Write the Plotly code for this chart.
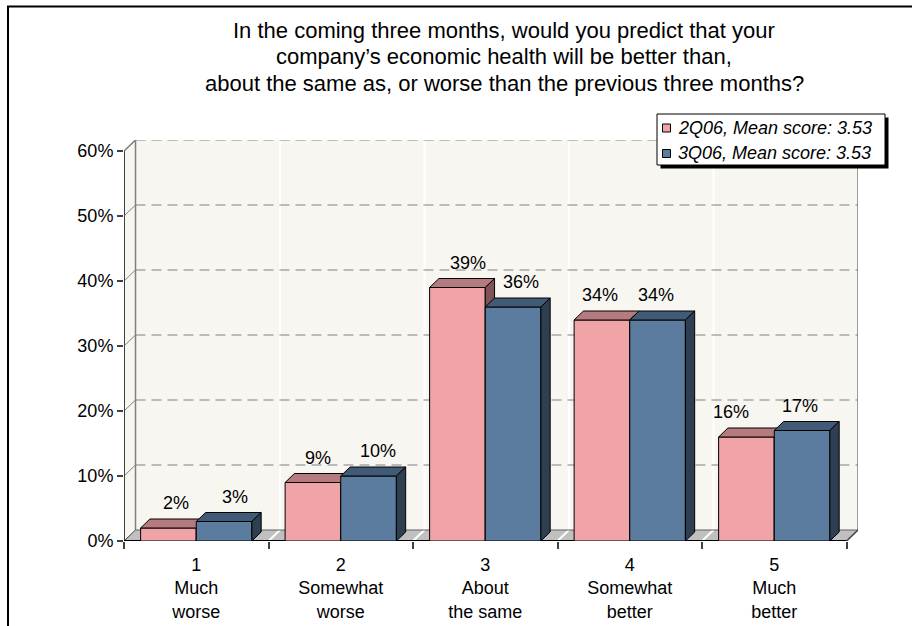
import plotly.graph_objects as go

# ---------------- data ----------------
categories = ["1<br>Much<br>worse", "2<br>Somewhat<br>worse", "3<br>About<br>the same",
              "4<br>Somewhat<br>better", "5<br>Much<br>better"]
series_names = ["2Q06, Mean score: 3.53", "3Q06, Mean score: 3.53"]
values_2q06 = [2, 9, 39, 34, 16]
values_3q06 = [3, 10, 36, 34, 17]
y_ticks = [0, 10, 20, 30, 40, 50, 60]
y_tick_labels = ["0%", "10%", "20%", "30%", "40%", "50%", "60%"]
title_lines = ["In the coming three months, would you predict that your",
               "company\u2019s economic health will be better than,",
               "about the same as, or worse than the previous three months?"]

# ---------------- geometry / style ----------------
FONT = "Arial, 'Liberation Sans', sans-serif"
W_FIG, H_FIG = 912, 626
ML, MR, MT, MB = 124, 54, 140, 85
PW = W_FIG - ML - MR
PH = H_FIG - MT - MB
N = len(categories)
Y_TOP = y_ticks[-1]

# depth of the walls (pixels) converted to data units
WALL_DX_PX, WALL_DY_PX = 11.5, 11.0
WX = WALL_DX_PX * N / (PW - WALL_DX_PX)
WY = WALL_DY_PX * Y_TOP / (PH - WALL_DY_PX)
X_MAX = N + WX
Y_MAX = Y_TOP + WY
UX = (PW - WALL_DX_PX) / N          # px per category
UY = (PH - WALL_DY_PX) / Y_TOP      # px per percent

# depth of the bars
BX = 9.3 / UX
BY = 9.0 / UY

GAP = 0.23
BW = (1 - GAP) / 2

# horizontal nudges of the value labels (px), per category
LABEL_NUDGE = [[8, 5, 11, -2, -15], [11, 9, 8, -2, -2]]

PINK = dict(front="#F0A4A8", top="#B67B7F", side="#7E5457")
BLUE = dict(front="#5C7C9F", top="#415B76", side="#2E3F52")
WALL = "#F7F6F1"
FLOOR = "#C0C0C0"
EDGE = "#808080"


def px_x(p):
    return (p - ML) / PW


def px_y(p):
    return (H_FIG - MB - p) / PH


def bar_faces(x0s, x1s, vals):
    tops_x, tops_y, sides_x, sides_y = [], [], [], []
    for x0, x1, v in zip(x0s, x1s, vals):
        tops_x += [x0, x1, x1 + BX, x0 + BX, x0, None]
        tops_y += [v, v, v + BY, v + BY, v, None]
        sides_x += [x1, x1 + BX, x1 + BX, x1, x1, None]
        sides_y += [0, BY, v + BY, v, 0, None]
    return tops_x, tops_y, sides_x, sides_y


centers = [i + 0.5 for i in range(N)]
fig = go.Figure()

for k, (vals, col, xa, ya, off) in enumerate([
        (values_2q06, PINK, "x", "y", -BW),
        (values_3q06, BLUE, "x2", "y2", 0.0)]):
    x0s = [c + off for c in centers]
    x1s = [x + BW for x in x0s]
    fig.add_trace(go.Bar(
        x=centers, y=vals, width=BW, offset=off, name=series_names[k],
        marker=dict(color=col["front"], line=dict(color="black", width=1)),
        xaxis=xa, yaxis=ya, hoverinfo="skip", showlegend=False))
    tx, ty, sx, sy = bar_faces(x0s, x1s, vals)
    fig.add_trace(go.Scatter(
        x=tx, y=ty, mode="lines", fill="toself", fillcolor=col["top"],
        line=dict(color="black", width=1), xaxis=xa, yaxis=ya,
        hoverinfo="skip", showlegend=False))
    fig.add_trace(go.Scatter(
        x=sx, y=sy, mode="lines", fill="toself", fillcolor=col["side"],
        line=dict(color="black", width=1), xaxis=xa, yaxis=ya,
        hoverinfo="skip", showlegend=False))

# ---------------- walls, floor, grid ----------------
shapes = []
# back wall and left side wall
shapes.append(dict(type="rect", xref="x", yref="y", x0=WX, x1=N + WX, y0=WY, y1=Y_MAX,
                   fillcolor=WALL, line=dict(width=0), layer="below"))
shapes.append(dict(type="path", xref="x", yref="y",
                   path=f"M0,0 L{WX},{WY} L{WX},{Y_MAX} L0,{Y_TOP} Z",
                   fillcolor=WALL, line=dict(width=0), layer="below"))
# floor
shapes.append(dict(type="path", xref="x", yref="y",
                   path=f"M0,0 L{N},0 L{N + WX},{WY} L{WX},{WY} Z",
                   fillcolor=FLOOR, line=dict(width=0), layer="below"))
# category separators on the wall and floor
for k in range(1, N):
    shapes.append(dict(type="line", xref="x", yref="y", x0=k + WX, x1=k + WX, y0=WY, y1=Y_MAX,
                       line=dict(color="white", width=2), layer="below"))
    shapes.append(dict(type="line", xref="x", yref="y", x0=k, x1=k + WX, y0=0, y1=WY,
                       line=dict(color="white", width=2), layer="below"))
# gridlines on the back wall and the side wall
for v in y_ticks[1:]:
    shapes.append(dict(type="line", xref="x", yref="y", x0=WX, x1=N + WX, y0=v + WY, y1=v + WY,
                       line=dict(color=EDGE, width=1, dash="10px,6px"), layer="below"))
    shapes.append(dict(type="line", xref="x", yref="y", x0=0, x1=WX, y0=v, y1=v + WY,
                       line=dict(color=EDGE, width=1), layer="below"))
# wall edges
shapes.append(dict(type="line", xref="x", yref="y", x0=WX, x1=WX, y0=WY, y1=Y_MAX,
                   line=dict(color=EDGE, width=1.5), layer="below"))
shapes.append(dict(type="line", xref="x", yref="y", x0=N + WX, x1=N + WX, y0=WY, y1=Y_MAX,
                   line=dict(color=EDGE, width=1.5), layer="below"))
shapes.append(dict(type="line", xref="x", yref="y", x0=WX, x1=N + WX, y0=WY, y1=WY,
                   line=dict(color="#606060", width=1), layer="below"))
shapes.append(dict(type="line", xref="x", yref="y", x0=N, x1=N + WX, y0=0, y1=WY,
                   line=dict(color="#404040", width=1.5), layer="below"))
shapes.append(dict(type="line", xref="x", yref="y", x0=0, x1=WX, y0=0, y1=WY,
                   line=dict(color="#404040", width=1), layer="below"))
# front axes
shapes.append(dict(type="line", xref="x", yref="y", x0=0, x1=0, y0=0, y1=Y_TOP,
                   line=dict(color="#404040", width=2), layer="below"))
shapes.append(dict(type="line", xref="x", yref="y", x0=0, x1=WX, y0=Y_TOP, y1=Y_MAX,
                   line=dict(color=EDGE, width=1.5), layer="below"))
shapes.append(dict(type="line", xref="x", yref="y", x0=0, x1=N, y0=0, y1=0,
                   line=dict(color="black", width=2), layer="below"))

# ---------------- legend ----------------
LX0, LY0, LX1, LY1 = 657, 114, 885, 165
shapes.append(dict(type="rect", xref="paper", yref="paper",
                   x0=px_x(LX0 + 3.5), x1=px_x(LX1 + 3.5), y0=px_y(LY1 + 3.5), y1=px_y(LY0 + 3.5),
                   fillcolor="black", line=dict(width=0)))
shapes.append(dict(type="rect", xref="paper", yref="paper",
                   x0=px_x(LX0), x1=px_x(LX1), y0=px_y(LY1), y1=px_y(LY0),
                   fillcolor="white", line=dict(color="black", width=1)))
annotations = []
for k, (name, col) in enumerate(zip(series_names, [PINK, BLUE])):
    cy = 128 + 25.5 * k
    shapes.append(dict(type="rect", xref="paper", yref="paper",
                       x0=px_x(662.5), x1=px_x(670.5), y0=px_y(cy + 4), y1=px_y(cy - 4),
                       fillcolor=col["front"], line=dict(color="black", width=1)))
    annotations.append(dict(xref="paper", yref="paper", x=px_x(676), y=px_y(cy),
                            xanchor="left", yanchor="middle", showarrow=False, text=f"<i>{name}</i>",
                            font=dict(family=FONT, size=18, color="black")))

# outer frame
shapes.append(dict(type="rect", xref="paper", yref="paper",
                   x0=px_x(8), x1=px_x(940), y0=px_y(660), y1=px_y(6.5),
                   line=dict(color="black", width=2), fillcolor="rgba(0,0,0,0)"))

# ---------------- value labels ----------------
for s, (vals, off) in enumerate([(values_2q06, -BW / 2), (values_3q06, BW / 2)]):
    for i, (c, v) in enumerate(zip(centers, vals)):
        annotations.append(dict(xref="x", yref="y", x=c + off, y=v, text=f"{v}%",
                                showarrow=False, xanchor="center", yanchor="middle",
                                xshift=LABEL_NUDGE[s][i], yshift=25,
                                font=dict(family=FONT, size=18, color="black")))

# title, one line at a time
for k, line in enumerate(title_lines):
    annotations.append(dict(xref="paper", yref="paper", x=px_x(504), y=px_y(31 + 26 * k),
                            xanchor="center", yanchor="middle", showarrow=False, text=line,
                            font=dict(family=FONT, size=22, color="black")))

fig.update_layout(
    width=W_FIG, height=H_FIG,
    margin=dict(l=ML, r=MR, t=MT, b=MB, pad=0, autoexpand=False),
    paper_bgcolor="white", plot_bgcolor="rgba(0,0,0,0)",
    showlegend=False,
    shapes=shapes, annotations=annotations,
    xaxis=dict(range=[0, X_MAX], tickvals=list(range(N + 1)), ticks="outside", ticklen=7,
               tickcolor="#404040", tickwidth=1.5, showticklabels=False, showgrid=False,
               zeroline=False, showline=False, fixedrange=True, automargin=False),
    xaxis2=dict(range=[0, X_MAX], overlaying="x", anchor="y2", tickvals=centers,
                ticktext=categories, ticks="", showgrid=False, zeroline=False, showline=False,
                tickfont=dict(family=FONT, size=18, color="black"), ticklabelstandoff=11,
                fixedrange=True, automargin=False),
    yaxis=dict(range=[0, Y_MAX], tickvals=y_ticks, ticktext=y_tick_labels, ticks="outside",
               ticklen=6, tickcolor="#404040", tickwidth=1.5, showgrid=False, zeroline=False,
               showline=False, tickfont=dict(family=FONT, size=18, color="black"),
               fixedrange=True, automargin=False),
    yaxis2=dict(range=[0, Y_MAX], overlaying="y", anchor="x2", visible=False, fixedrange=True,
                automargin=False),
)

fig.write_html("out.html")
